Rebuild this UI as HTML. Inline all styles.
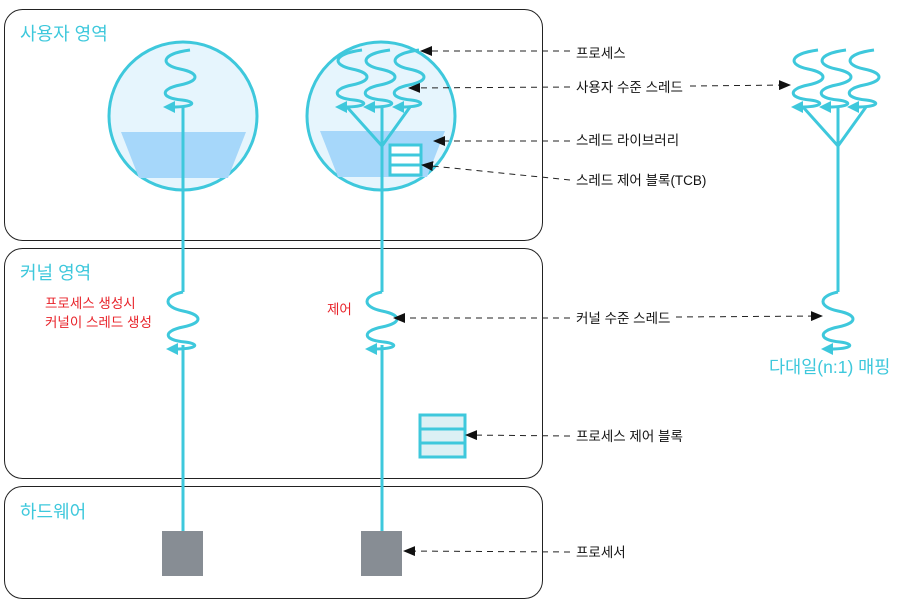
<!DOCTYPE html>
<html><head><meta charset="utf-8"><style>
body{margin:0;background:#fff;width:907px;height:605px;overflow:hidden}
svg text{font-family:"Liberation Sans","Noto Sans CJK KR",sans-serif}
</style></head><body>
<svg width="907" height="605" viewBox="0 0 907 605" xmlns="http://www.w3.org/2000/svg">
<defs>
<g id="sq">
<path d="M10,0 C-20,4 -20,15 0,19 C20,23 20,31 0,35 C-20,39 -20,48 2,50 C18,52 14,57 -8,57" fill="none" stroke="#3ec8dc" stroke-width="3"/>
<polygon points="-17,57 -5,51 -5,63" fill="#3ec8dc"/>
</g>
<g id="sqk">
<path d="M0,0 C-20,4 -20,15 0,19 C20,23 20,31 0,35 C-20,39 -20,48 2,50 C18,52 14,57 -8,57" fill="none" stroke="#3ec8dc" stroke-width="3"/>
<polygon points="-17,57 -5,51 -5,63" fill="#3ec8dc"/>
</g>
<marker id="ah" markerWidth="12" markerHeight="10" refX="11" refY="5" orient="auto" markerUnits="userSpaceOnUse">
<polygon points="0,0 12,5 0,10" fill="#111"/>
</marker>
</defs>
<g fill="#fff" stroke="#222" stroke-width="1">
<rect x="4.5" y="9.5" width="538" height="231" rx="18"/>
<rect x="4.5" y="248.5" width="538" height="230" rx="18"/>
<rect x="4.5" y="486.5" width="538" height="112" rx="18"/>
</g>
<g fill="#3ec8dc" font-size="18">
<text x="20" y="40">사용자 영역</text>
<text x="20" y="279">커널 영역</text>
<text x="20" y="518">하드웨어</text>
</g>
<circle cx="183" cy="116" r="74" fill="#e6f5fd" stroke="#3ec8dc" stroke-width="3"/>
<polygon points="121,132 246,132 228,178 139,178" fill="#a6d7fa"/>
<circle cx="381" cy="116" r="74" fill="#e6f5fd" stroke="#3ec8dc" stroke-width="3"/>
<polygon points="320,131 445,131 427,177 338,177" fill="#a6d7fa"/>
<g stroke="#3ec8dc" stroke-width="3" fill="none">
<line x1="183" y1="107" x2="183" y2="292"/>
<line x1="183" y1="345" x2="183" y2="531"/>
<line x1="382" y1="107" x2="382" y2="292"/>
<line x1="382" y1="345" x2="382" y2="531"/>
<polyline points="347,107 382,146 410,107"/>
<polyline points="803,107 838,146 866,107"/>
<line x1="838" y1="107" x2="838" y2="292"/>
</g>
<use href="#sq" x="180" y="50"/>
<use href="#sq" x="352" y="50"/>
<use href="#sq" x="380" y="50"/>
<use href="#sq" x="409" y="50"/>
<use href="#sq" x="808" y="50"/>
<use href="#sq" x="836" y="50"/>
<use href="#sq" x="864" y="50"/>
<use href="#sqk" x="183" y="292"/>
<use href="#sqk" x="382" y="292"/>
<use href="#sqk" x="838" y="292"/>
<g fill="#fff" stroke="#3ec8dc" stroke-width="3">
<rect x="390" y="145" width="31" height="10"/>
<rect x="390" y="155" width="31" height="10"/>
<rect x="390" y="165" width="31" height="10"/>
</g>
<g fill="#dcf0f4" stroke="#3ec8dc" stroke-width="3">
<rect x="420" y="415" width="45" height="14"/>
<rect x="420" y="429" width="45" height="14"/>
<rect x="420" y="443" width="45" height="14"/>
</g>
<rect x="162" y="531" width="41" height="45" fill="#878d94"/>
<rect x="361" y="531" width="41" height="45" fill="#878d94"/>
<g stroke="#222" stroke-width="1" stroke-dasharray="6,5" fill="none" marker-end="url(#ah)">
<line x1="570" y1="51" x2="421" y2="51"/>
<line x1="570" y1="87" x2="409" y2="88"/>
<line x1="690" y1="86" x2="790" y2="85"/>
<line x1="570" y1="141" x2="434" y2="141"/>
<line x1="570" y1="180" x2="422" y2="165"/>
<line x1="570" y1="318" x2="394" y2="318"/>
<line x1="676" y1="317" x2="822" y2="316"/>
<line x1="570" y1="436" x2="466" y2="435"/>
<line x1="570" y1="552" x2="404" y2="551"/>
</g>
<g font-size="13.5" fill="#111">
<text x="576" y="58">프로세스</text>
<text x="576" y="92">사용자 수준 스레드</text>
<text x="576" y="145">스레드 라이브러리</text>
<text x="576" y="185">스레드 제어 블록(TCB)</text>
<text x="576" y="323">커널 수준 스레드</text>
<text x="576" y="441">프로세스 제어 블록</text>
<text x="576" y="557">프로세서</text>
</g>
<g font-size="13.5" fill="#e8232a">
<text x="45" y="308">프로세스 생성시</text>
<text x="45" y="327">커널이 스레드 생성</text>
<text x="327" y="314">제어</text>
</g>
<text x="769" y="373" font-size="17.5" fill="#3ec8dc">다대일(n:1) 매핑</text>
</svg>
</body></html>
